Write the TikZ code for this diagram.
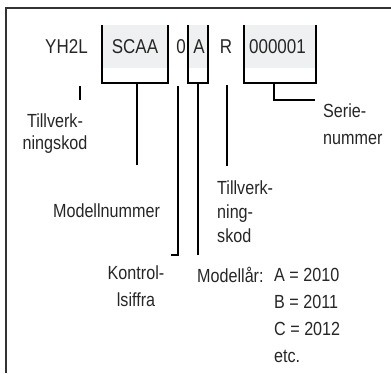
\documentclass[tikz,border=0pt]{standalone}
\usepackage{fontspec}
\setmainfont{Liberation Sans}[FakeStretch=0.85]
\definecolor{boxgray}{HTML}{EFF0F2}

\begin{document}
\begin{tikzpicture}[x=1pt, y=-1pt,
		code/.style={inner sep=0pt, anchor=base, text=black!85, font=\fontsize{20}{24}\selectfont},
		note/.style={inner sep=0pt, text=black!85, font=\fontsize{19}{27}\selectfont},
		codebox/.style={inner sep=0pt, minimum width=#1, minimum height=58},
		wire/.style={line width=1.7pt}]
		\useasboundingbox (0,0) rectangle (391,373);
		
		% Frame
		\draw[line width=2pt, black!80] (6,373) -- (6,8) -- (391,8);
		
		% Boxes
		\node[codebox=66] (scaabox) at (135,54) {};
		\node[codebox=20] (yearbox) at (198,54) {};
		\node[codebox=72] (serialbox) at (280,54) {};
		\foreach \b in {scaabox, yearbox, serialbox} {
			\fill[boxgray] (\b.north west) rectangle ([yshift=15pt]\b.south east);
			\draw[wire] (\b.north west) |- (\b.south east) -- (\b.north east);
		}
		
		% Code
		\node[code] (yh2l) at (66.5,53) {YH2L};
		\node[code] (scaa) at (135,53) {SCAA};
		\node[code] (ctrl) at (181,53) {0};
		\node[code] (year) at (199,53) {A};
		\node[code] (plant) at (226,53) {R};
		\node[code] (serial) at (277.5,53) {000001};
		
		% Labels
		\node[note, anchor=north, align=center, font=\fontsize{19}{22}\selectfont] (mfrnote) at (55,114) {Tillverk-\\ningskod};
		\node[note, anchor=base] (modnote) at (106.5,217) {Modellnummer};
		\node[note, anchor=north, align=center] (ctrlnote) at (136,266) {Kontrol-\\lsiffra};
		\node[note, anchor=base west] (yearnote) at (197,282) {Modellår:};
		\node[note, anchor=north west, align=left] (yearlist) at (274,268.4) {A = 2010\\B = 2011\\C = 2012\\etc.};
		\node[note, anchor=north west, align=left, font=\fontsize{19}{24}\selectfont] (plantnote) at (217,181) {Tillverk-\\ning-\\skod};
		\node[note, anchor=north west, align=left] (serialnote) at (323,104) {Serie-\\nummer};
		
		% Connectors
		\coordinate (mfrtop) at (80,86);
		\coordinate (mfrend) at (80,100);
		\coordinate (modend) at (137,165);
		\coordinate (ctrltop) at (178,86);
		\coordinate (ctrlend) at (171,255);
		\coordinate (yearend) at (198,255);
		\coordinate (planttop) at (227,85);
		\coordinate (plantend) at (227,166);
		\coordinate (serialtop) at (274,83);
		\coordinate (serialend) at (315,100);
		\draw[wire] (mfrtop) -- (mfrend);
		\draw[wire] (modend |- scaabox.south) -- (modend);
		\draw[wire] (ctrltop) |- (ctrlend);
		\draw[wire] (yearbox.south) -- (yearend);
		\draw[wire] (planttop) -- (plantend);
		\draw[wire] (serialtop) |- (serialend);
\end{tikzpicture}
\end{document}
